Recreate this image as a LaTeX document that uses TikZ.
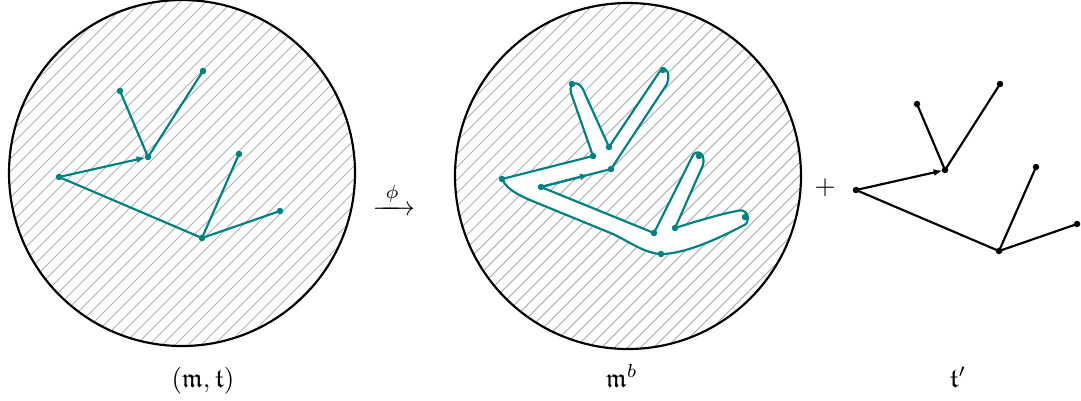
\documentclass[tikz,border=0pt]{standalone}
\usepackage{amsmath,amssymb}
\usetikzlibrary{arrows.meta,calc}
\begin{document}
\begin{tikzpicture}[x=0.37pt,y=-0.37pt,
  hatch/.style={gray!60,line width=0.38pt},
  rim/.style={black,line width=0.8pt},
  tedge/.style={line width=0.8pt},
  tip/.style={-{Latex[length=3.2pt,width=2.6pt]}},
  lbl/.style={anchor=base,inner sep=0pt}]
\useasboundingbox (0,0) rectangle (1081,400);
\def\R{64.01pt}
\coordinate (lc) at (182,173);
\coordinate (mc) at (628,176);
% hatching
\begin{scope}
  \clip (lc) circle[radius=\R];
  \foreach \c in {0,13,...,1560} \draw[hatch] (\c,0) -- (\c-420,420);
\end{scope}
\begin{scope}
  \clip (mc) circle[radius=\R];
  \foreach \c in {0,13,...,1560} \draw[hatch] (\c,0) -- (\c-420,420);
\end{scope}
\draw[rim] (lc) circle[radius=\R];
\draw[rim] (mc) circle[radius=\R];
% left tree
\begin{scope}[teal]
  \coordinate (lA) at (120,91);
  \coordinate (lB) at (203,71);
  \coordinate (lC) at (148,157);
  \coordinate (lD) at (59,177);
  \coordinate (lE) at (202,238);
  \coordinate (lF) at (239,154);
  \coordinate (lG) at (280,211);
  \draw[tedge] (lC) -- (lA);
  \draw[tedge] (lC) -- (lB);
  \draw[tedge] (lD) -- (lE);
  \draw[tedge] (lE) -- (lF);
  \draw[tedge] (lE) -- (lG);
  \draw[tedge,tip] (lD) -- ($(lD)!0.97!(lC)$);
  \foreach \p in {lA,lB,lC,lD,lE,lF,lG} \fill (\p) circle (1.2pt);
\end{scope}
% right tree
\begin{scope}[black,shift={(797,13)}]
  \coordinate (rA) at (120,91);
  \coordinate (rB) at (203,71);
  \coordinate (rC) at (148,157);
  \coordinate (rD) at (59,177);
  \coordinate (rE) at (202,238);
  \coordinate (rF) at (239,154);
  \coordinate (rG) at (280,211);
\end{scope}
\draw[tedge] (rC) -- (rA);
\draw[tedge] (rC) -- (rB);
\draw[tedge] (rD) -- (rE);
\draw[tedge] (rE) -- (rF);
\draw[tedge] (rE) -- (rG);
\draw[tedge,tip] (rD) -- ($(rD)!0.97!(rC)$);
\foreach \p in {rA,rB,rC,rD,rE,rF,rG} \fill (\p) circle (1.2pt);
% middle fattened tree
\coordinate (mD) at (502,179);
\coordinate (m1) at (593,156);
\coordinate (mA) at (572,84);
\coordinate (m2) at (609,147);
\coordinate (mB) at (663,70);
\coordinate (m3) at (611,169);
\coordinate (m4) at (541,187);
\coordinate (m5) at (654,233);
\coordinate (mF) at (699,156);
\coordinate (m6) at (675,228);
\coordinate (mG) at (745,217);
\coordinate (mE) at (661,254);
\newcommand\mboundary{(mD) -- (m1) -- (571,93) .. controls (568,82) and (580,78) .. (585,94) -- (m2)
  -- (658,74) .. controls (662,66) and (672,68) .. (667,84) -- (m3) -- (m4) -- (m5)
  -- (692,157) .. controls (695,149) and (706,151) .. (703,165) -- (m6)
  .. controls (700,220) and (725,213) .. (737,211) .. controls (745,208) and (751,216) .. (746,224)
  .. controls (720,238) and (685,254) .. (mE)
  .. controls (645,253) and (635,245) .. (613,234) -- (547,207) .. controls (525,198) and (508,192) .. (mD) -- cycle}
\fill[white] \mboundary;
\draw[teal,tedge,line join=round] \mboundary;
\draw[teal,tedge,tip] (m4) -- ($(m4)!0.68!(m3)$);
\foreach \p in {mD,m1,mA,m2,mB,m3,m4,m5,mF,m6,mG,mE} \fill[teal] (\p) circle (1.2pt);
% labels
\node[lbl] (map) at (394,215) {$\xrightarrow{\;\phi\;}$};
\node (plus) at (825,188) {$+$};
\node[lbl] (l1) at (203,387) {$(\mathfrak{m},\mathfrak{t})$};
\node[lbl] (l2) at (622,387) {$\mathfrak{m}^b$};
\node[lbl] (l3) at (958,387) {$\mathfrak{t}'$};
\end{tikzpicture}
\end{document}
